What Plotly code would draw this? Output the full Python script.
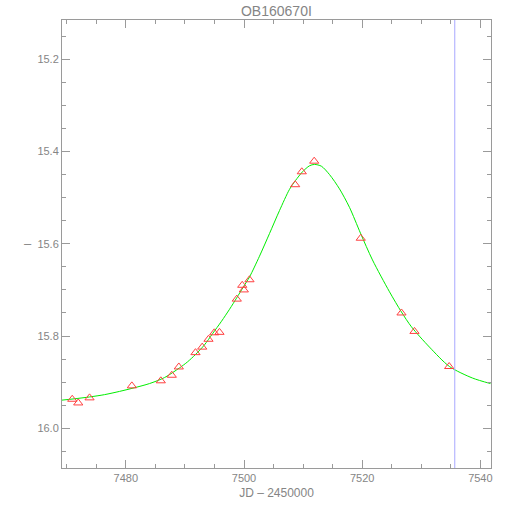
import plotly.graph_objects as go

# photometry points (JD - 2450000, magnitude)
obs_jd = [7470.93, 7471.95, 7473.86, 7481.02, 7485.92, 7487.78, 7488.97,
          7491.79, 7492.93, 7493.99, 7494.96, 7495.85, 7498.78, 7499.70,
          7499.97, 7500.93, 7508.66, 7509.78, 7511.88, 7519.76, 7526.65,
          7528.85, 7534.72]
obs_mag = [15.937, 15.945, 15.934, 15.908, 15.897, 15.885, 15.867,
           15.836, 15.824, 15.807, 15.793, 15.792, 15.720, 15.690,
           15.700, 15.678, 15.472, 15.444, 15.421, 15.588, 15.750,
           15.790, 15.866]

# model curve
model_jd = [7469.12, 7471.32, 7473.86, 7476.40, 7478.93, 7481.47, 7484.01,
            7486.55, 7489.09, 7490.44, 7491.79, 7493.32, 7494.67, 7496.19,
            7497.55, 7498.73, 7499.92, 7500.93, 7502.62, 7504.31, 7506.01,
            7507.70, 7508.71, 7509.90, 7511.08, 7511.93, 7513.11, 7514.47,
            7516.16, 7517.85, 7519.71, 7521.74, 7524.62, 7526.65, 7528.34,
            7531.39, 7534.77, 7538.66, 7541.71]
model_mag = [15.939, 15.936, 15.932, 15.927, 15.920, 15.912, 15.903,
             15.890, 15.869, 15.856, 15.840, 15.819, 15.795, 15.768,
             15.742, 15.718, 15.693, 15.672, 15.627, 15.578, 15.528,
             15.482, 15.463, 15.444, 15.431, 15.428, 15.432, 15.450,
             15.481, 15.521, 15.577, 15.635, 15.704, 15.748, 15.780,
             15.824, 15.866, 15.891, 15.903]

current_jd = 7535.67

x_ticks = [7480, 7500, 7520, 7540]
y_ticks = [15.2, 15.4, 15.6, 15.8, 16.0]

axis_gray = '#9a9a9a'
text_gray = '#858585'
font = dict(family='Liberation Sans, Arial, sans-serif', size=12, color=text_gray)
tick_font = dict(family='Liberation Sans, Arial, sans-serif', size=11, color=text_gray)

fig = go.Figure()

fig.add_trace(go.Scatter(
    x=model_jd, y=model_mag,
    mode='lines',
    line=dict(color='#00ee00', width=1, shape='spline', smoothing=0.8),
    hoverinfo='skip'
))

fig.add_trace(go.Scatter(
    x=obs_jd, y=obs_mag,
    mode='markers',
    marker=dict(symbol='triangle-up-open', size=8, color='#ff4040',
                line=dict(width=1, color='#ff4040'))
))

fig.add_vline(x=current_jd, line=dict(color='#a8a8ff', width=1))

fig.update_layout(
    width=510, height=510,
    margin=dict(l=62, r=19, t=20, b=40),
    paper_bgcolor='white',
    plot_bgcolor='white',
    showlegend=False,
    font=font,
    title=dict(text='OB160670I', x=0.542, xanchor='center', y=0.979,
               yanchor='middle', font=dict(size=14, color=text_gray)),
    annotations=[dict(text='–', xref='paper', yref='paper', x=-0.094, y=0.502,
                      showarrow=False, font=dict(size=13, color=text_gray))]
)

fig.update_xaxes(
    range=[7469.2, 7541.8],
    tickvals=x_ticks, tickfont=tick_font,
    ticks='inside', ticklen=8, tickcolor=axis_gray,
    minor=dict(dtick=5, tick0=7470, ticks='inside', ticklen=4, tickcolor=axis_gray),
    showline=True, linecolor=axis_gray, linewidth=1, mirror='ticks',
    showgrid=False, zeroline=False,
    title=dict(text='JD – 2450000', standoff=5, font=dict(size=12, color=text_gray))
)

fig.update_yaxes(
    range=[16.086, 15.115],
    tickvals=y_ticks, tickformat='.1f', tickfont=tick_font,
    ticks='inside', ticklen=8, tickcolor=axis_gray,
    minor=dict(dtick=0.05, tick0=15.0, ticks='inside', ticklen=4, tickcolor=axis_gray),
    showline=True, linecolor=axis_gray, linewidth=1, mirror='ticks',
    showgrid=False, zeroline=False
)

fig.write_html("out.html", config={'displayModeBar': False},
               post_script="document.body.style.margin='0';")
